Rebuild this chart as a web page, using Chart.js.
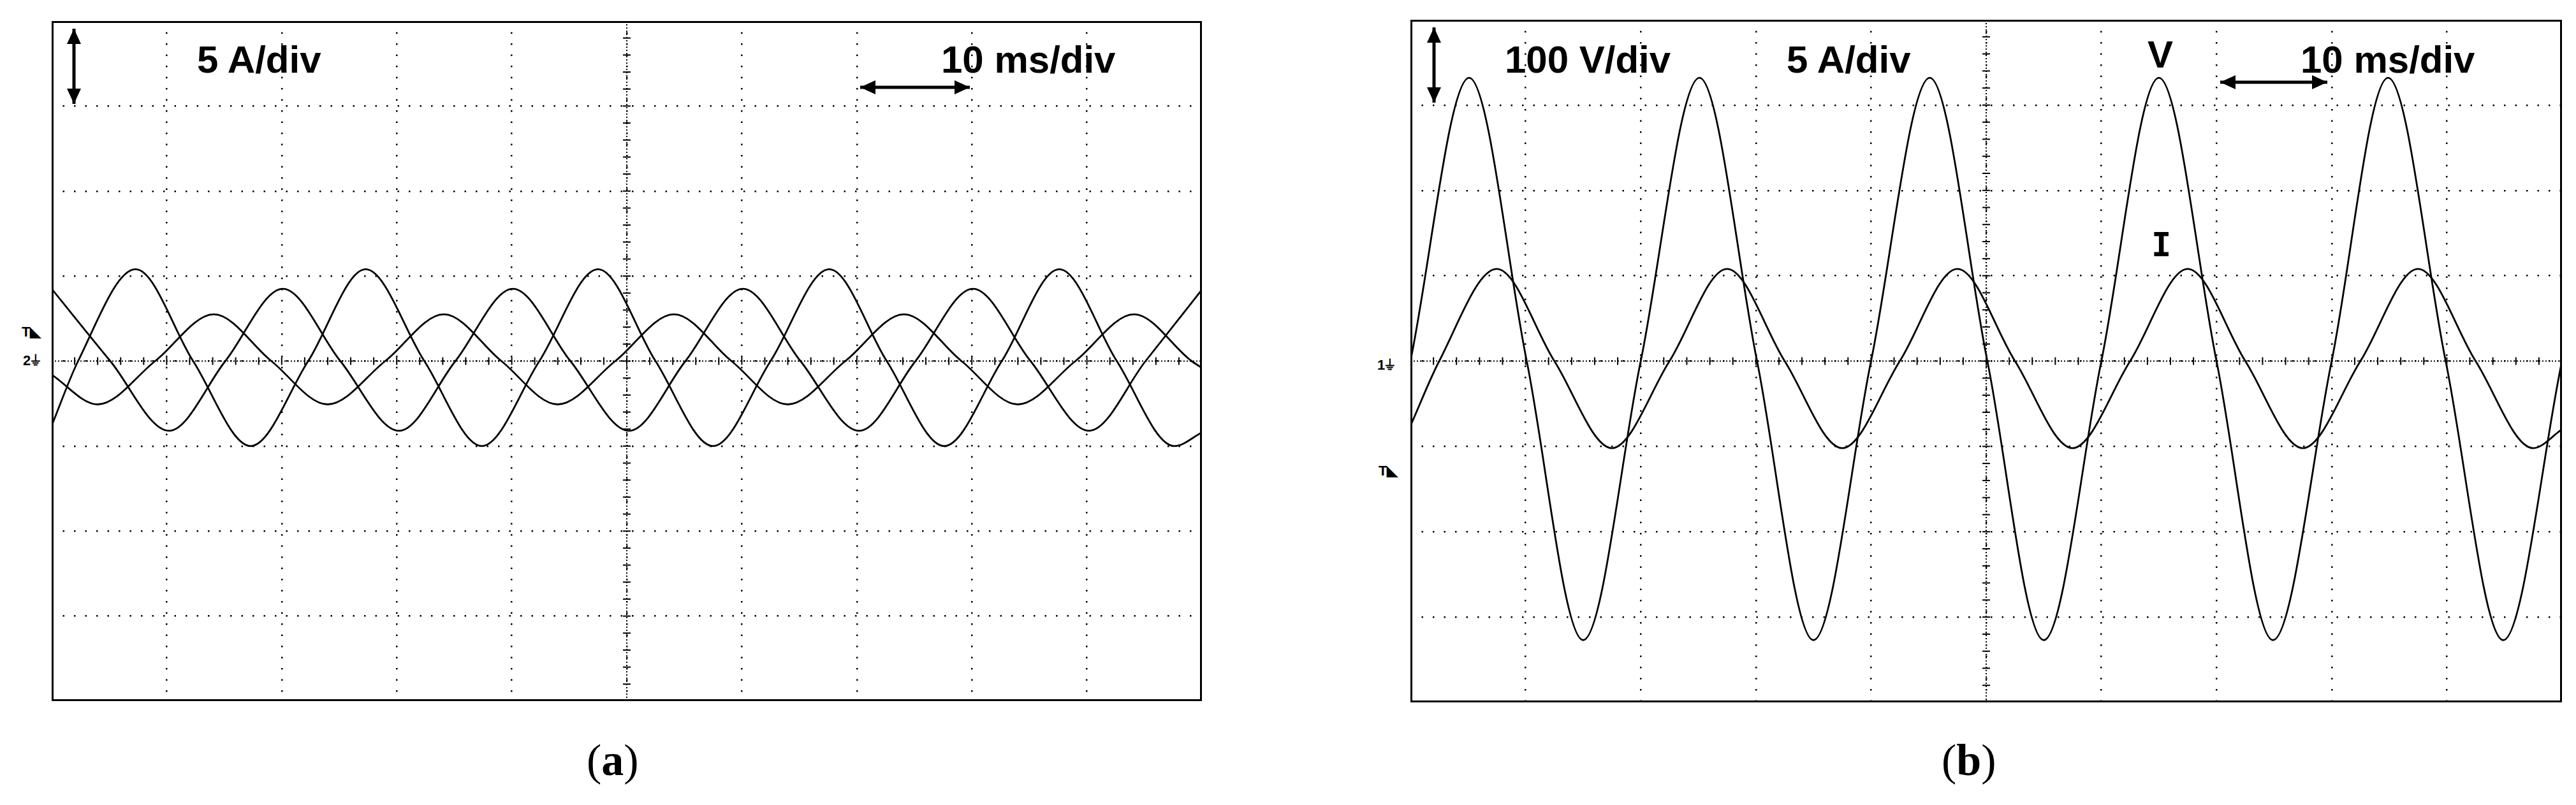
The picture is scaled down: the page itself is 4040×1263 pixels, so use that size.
<!DOCTYPE html>
<html>
<head>
<meta charset="utf-8">
<script src="https://cdn.jsdelivr.net/npm/chart.js@4/dist/chart.umd.min.js"></script>
<style>
  body { margin: 0; background: #fff; width: 4040px; height: 1263px; position: relative; overflow: hidden; }
  .box { position: absolute; }
  .lbl { position: absolute; font-family: "Liberation Sans", Arial, sans-serif; font-weight: bold; font-size: 60px; color: #000; line-height: 1; white-space: nowrap; }
  .mark { position: absolute; font-family: "Liberation Sans", Arial, sans-serif; font-weight: bold; font-size: 22px; color: #000; line-height: 1; }
  .cap { position: absolute; font-family: "Liberation Serif", "Times New Roman", serif; font-size: 70px; color: #000; line-height: 1; }
</style>
</head>
<body>
<div class="box" style="left:81px;top:33px;width:1804px;height:1067px"><canvas id="chartA" width="1804" height="1067"></canvas></div>
<div class="box" style="left:2212px;top:31px;width:1806px;height:1071px"><canvas id="chartB" width="1806" height="1071"></canvas></div>

<div class="lbl" style="left:309px;top:64px">5 A/div</div>
<div class="lbl" style="left:1476px;top:64px">10 ms/div</div>
<div class="lbl" style="left:2360px;top:64px">100 V/div</div>
<div class="lbl" style="left:2802px;top:64px">5 A/div</div>
<div class="lbl" style="left:3368px;top:56px">V</div>
<div class="lbl" style="left:3608px;top:64px">10 ms/div</div>
<div class="lbl" style="left:3374px;top:358px;font-family:'DejaVu Sans Mono',monospace;font-size:52px">I</div>

<div class="mark" style="left:34px;top:510px">T&#9699;</div>
<div class="mark" style="left:36px;top:555px">2&#9178;</div>
<div class="mark" style="left:2160px;top:562px">1&#9178;</div>
<div class="mark" style="left:2162px;top:728px">T&#9699;</div>

<div class="cap" style="left:920px;top:1158px">(<b>a</b>)</div>
<div class="cap" style="left:3045px;top:1158px">(<b>b</b>)</div>

<script>
// panel (a): three phase currents, ms / A
const tA1 = [0, 2.3, 7.3, 12.3, 17.3, 22.3, 27.3, 32.4, 37.4, 42.4, 47.5, 52.5, 57.5, 62.5, 67.6, 72.6, 77.6, 82.6, 87.6, 92.6, 97.6, 100];
const iA1 = [-3.8, 0, 5.4, 0, -5.0, 0, 5.4, 0, -5.0, 0, 5.4, 0, -5.0, 0, 5.4, 0, -5.0, 0, 5.4, 0, -5.0, -4.2];
const tA2 = [0, 5.1, 10.2, 15.1, 20.1, 25.1, 30.2, 35.1, 40.1, 45.1, 50.2, 55.1, 60.1, 65.1, 70.2, 75.1, 80.1, 85.1, 90.2, 95.1, 100];
const iA2 = [4.25, 0, -4.1, 0, 4.25, 0, -4.1, 0, 4.25, 0, -4.1, 0, 4.25, 0, -4.1, 0, 4.25, 0, -4.1, 0, 4.2];
const tA3 = [0, 4, 9, 14.1, 19.1, 24, 29, 34.1, 39.1, 44, 49, 54.1, 59.1, 64, 69, 74.1, 79.1, 84, 89, 94.1, 99.1, 100];
const iA3 = [-0.8, -2.55, 0, 2.75, 0, -2.55, 0, 2.75, 0, -2.55, 0, 2.75, 0, -2.55, 0, 2.75, 0, -2.55, 0, 2.75, 0, -0.4];

// panel (b): voltage (V) and current (A)
const tV = [0, 5.1, 10.1, 15, 20, 25.1, 30.1, 35, 40, 45.1, 50.1, 55, 60, 65, 70, 74.9, 80, 84.9, 89.9, 94.9, 100];
const vB = [0, 332, 0, -327, 0, 332, 0, -327, 0, 332, 0, -327, 0, 332, 0, -327, 0, 332, 0, -327, 0];
const tI = [0, 2.5, 7.5, 12.5, 17.5, 22.5, 27.5, 32.5, 37.5, 42.5, 47.5, 52.5, 57.5, 62.5, 67.5, 72.5, 77.5, 82.5, 87.5, 92.5, 97.5, 100];
const iB = [-3.8, 0, 5.4, 0, -5.1, 0, 5.4, 0, -5.1, 0, 5.4, 0, -5.1, 0, 5.4, 0, -5.1, 0, 5.4, 0, -5.1, -4.0];

const pts = (ts, vs) => ts.map((t, i) => ({ x: t, y: vs[i] }));

function trace(ts, vs, axis) {
  return {
    data: pts(ts, vs), yAxisID: axis || "y",
    borderColor: "#000", borderWidth: 2.8, pointRadius: 0,
    cubicInterpolationMode: "monotone", fill: false
  };
}

// dotted centre lines with small ticks, scale arrows and the solid frame
const scopeDecor = {
  id: "scopeDecor",
  beforeDatasetsDraw(chart, args, opts) {
    const { ctx, chartArea: a, scales: { x, y } } = chart;
    const cx = x.getPixelForValue(50), cy = y.getPixelForValue(0);
    const divW = (a.right - a.left) / 10, divH = (a.bottom - a.top) / 8;
    ctx.save();
    ctx.fillStyle = "#000";
    for (let px = a.left; px <= a.right; px += 5) ctx.fillRect(px, cy - 1, 2, 2);
    for (let py = a.top; py <= a.bottom; py += 5) ctx.fillRect(cx - 1, py, 2, 2);
    for (let k = 0; k <= 50; k++) {
      const px = a.left + k * divW / 5;
      ctx.fillRect(px - 1, cy - 6, 2, 12);
    }
    for (let k = 0; k <= 40; k++) {
      const py = a.top + k * divH / 5;
      ctx.fillRect(cx - 6, py - 1, 12, 2);
    }
    const ax = a.left + opts.vx;
    arrow(ctx, ax, a.top + 12, ax, a.top + 130);
    arrow(ctx, a.left + opts.hx0, a.top + opts.hy, a.left + opts.hx1, a.top + opts.hy);
    ctx.restore();
  },
  afterDraw(chart) {
    const { ctx, chartArea: a } = chart;
    ctx.save();
    ctx.strokeStyle = "#000"; ctx.lineWidth = 3;
    ctx.strokeRect(a.left + 1.5, a.top + 1.5, a.right - a.left - 3, a.bottom - a.top - 3);
    ctx.restore();
  }
};

function arrow(ctx, x0, y0, x1, y1) {
  const ang = Math.atan2(y1 - y0, x1 - x0), h = 24, w = 11;
  ctx.strokeStyle = "#000"; ctx.lineWidth = 5;
  ctx.beginPath(); ctx.moveTo(x0, y0); ctx.lineTo(x1, y1); ctx.stroke();
  [[x0, y0, ang + Math.PI], [x1, y1, ang]].forEach(([px, py, t]) => {
    ctx.beginPath();
    ctx.moveTo(px, py);
    ctx.lineTo(px - h * Math.cos(t) + w * Math.sin(t), py - h * Math.sin(t) - w * Math.cos(t));
    ctx.lineTo(px - h * Math.cos(t) - w * Math.sin(t), py - h * Math.sin(t) + w * Math.cos(t));
    ctx.closePath(); ctx.fill();
  });
}

function scopeAxis(min, max, step, show) {
  return {
    type: "linear", min: min, max: max, display: show,
    ticks: { display: false, stepSize: step },
    grid: { color: "#000", lineWidth: 2.5, drawTicks: false },
    border: { display: false, dash: [2.5, 15] }
  };
}

function scopeOptions(extraScales, decor) {
  return {
    responsive: false, animation: false, devicePixelRatio: 1,
    layout: { padding: 0 },
    plugins: { legend: { display: false }, tooltip: { enabled: false }, scopeDecor: decor },
    scales: Object.assign({ x: scopeAxis(0, 100, 10, true), y: scopeAxis(-20, 20, 5, true) }, extraScales)
  };
}

new Chart(document.getElementById("chartA"), {
  type: "line",
  data: { datasets: [trace(tA1, iA1), trace(tA2, iA2), trace(tA3, iA3)] },
  options: scopeOptions({}, { vx: 35, hx0: 1268, hx1: 1440, hy: 104 }),
  plugins: [scopeDecor]
});

new Chart(document.getElementById("chartB"), {
  type: "line",
  data: { datasets: [trace(tV, vB, "y"), trace(tI, iB, "yI")] },
  options: scopeOptions({
    y: scopeAxis(-400, 400, 100, true),
    yI: Object.assign(scopeAxis(-20, 20, 5, false), { grid: { display: false } })
  }, { vx: 37, hx0: 1270, hx1: 1438, hy: 98 }),
  plugins: [scopeDecor]
});
</script>
</body>
</html>
